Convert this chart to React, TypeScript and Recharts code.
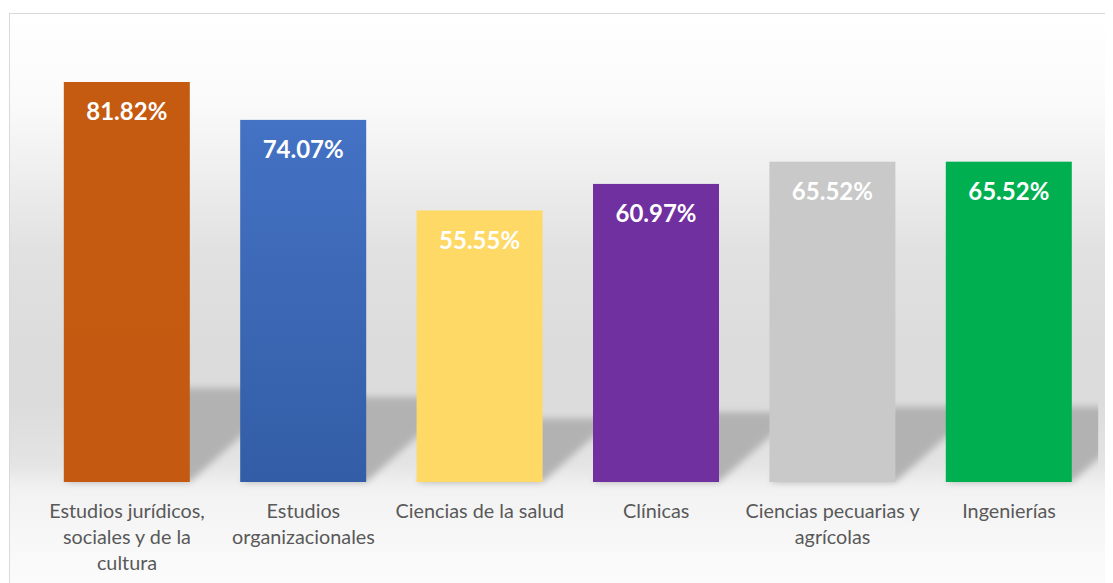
import { BarChart, Bar, XAxis, YAxis, LabelList } from "recharts";

const categories = [
    "Estudios jurídicos, sociales y de la cultura",
    "Estudios organizacionales",
    "Ciencias de la salud",
    "Clínicas",
    "Ciencias pecuarias y agrícolas",
    "Ingenierías",
];

const tickLines = [
    ["Estudios jurídicos,", "sociales y de la", "cultura"],
    ["Estudios", "organizacionales"],
    ["Ciencias de la salud"],
    ["Clínicas"],
    ["Ciencias pecuarias y", "agrícolas"],
    ["Ingenierías"],
];

const values = [81.82, 74.07, 55.55, 60.97, 65.52, 65.52];

const barTop = ["#C55A11", "#4472C4", "#FFD966", "#7030A0", "#C9C9C9", "#00B050"];
const barBottom = ["#C45911", "#335DA6", "#FFD966", "#7030A0", "#C9C9C9", "#00B050"];

const data = categories.map((name, i) => ({ name, value: values[i] }));

const W = 1105;
const H = 575;
const margin = { top: 34, right: 15.8, left: 30.8, bottom: 41 };
const PLOT_RIGHT = W - margin.right;
const PLOT_BOTTOM = H - margin.bottom - 60;

const FONT = "Lato, 'Open Sans', sans-serif";

const BarShape = (props: any) => {
    const { x, y, width, height, index } = props;
    const bottom = y + height;
    const hs = height * 0.235;
    const s = hs * 1.12;
    const pts = `${x},${bottom} ${x + width},${bottom} ${x + width + s},${bottom - hs} ${x + s},${bottom - hs}`;
    return (
        <g>
            <defs>
                <linearGradient id={`bar-grad-${index}`} x1="0" y1="0" x2="0" y2="1">
                    <stop offset="0%" stopColor={barTop[index]} />
                    <stop offset="100%" stopColor={barBottom[index]} />
                </linearGradient>
                <filter id={`bar-blur-${index}`} x="-30%" y="-30%" width="160%" height="160%">
                    <feGaussianBlur stdDeviation="3.5" />
                </filter>
                <clipPath id={`bar-clip-${index}`}>
                    <rect x={0} y={0} width={PLOT_RIGHT + 1} height={H} />
                </clipPath>
            </defs>
            <g clipPath={`url(#bar-clip-${index})`}>
                <polygon points={pts} fill="#b2b2b2" filter={`url(#bar-blur-${index})`} />
            </g>
            <rect x={x} y={y} width={width} height={height} fill={`url(#bar-grad-${index})`} />
        </g>
    );
};

const ValueLabel = (props: any) => {
    const { x, y, width, value } = props;
    return (
        <text
            x={x + width / 2}
            y={y + 29}
            textAnchor="middle"
            dominantBaseline="central"
            fill="#ffffff"
            fontFamily={FONT}
            fontWeight={700}
            fontSize={24}
        >
            {value.toFixed(2)}%
        </text>
    );
};

const CategoryTick = (props: any) => {
    const { x, payload } = props;
    const i = categories.indexOf(payload.value);
    const lines = tickLines[i] || [payload.value];
    return (
        <text
            x={x}
            y={PLOT_BOTTOM + 28}
            textAnchor="middle"
            fill="#595959"
            fontFamily={FONT}
            fontSize={19.8}
        >
            {lines.map((line, k) => (
                <tspan key={k} x={x} y={PLOT_BOTTOM + 28 + k * 26} dominantBaseline="central">
                    {line}
                </tspan>
            ))}
        </text>
    );
};

export default function App() {
    return (
        <div style={{ position: "relative", width: W, height: H, overflow: "hidden" }}>
            <div
                style={{
                    position: "absolute",
                    left: 1,
                    top: 5,
                    width: 1200,
                    height: 600,
                    border: "1px solid #d9d9d9",
                    background:
                        "linear-gradient(to bottom, #ffffff 0px, #fafafa 90px, #efefef 157px, #e1e1e1 237px, #dcdcdc 330px, #dcdcdc 390px, #e4e4e4 450px, #f2f2f2 475px, #fafafa 550px, #fcfcfc 600px)",
                }}
            />
            <div style={{ position: "absolute", left: 0, top: 0 }}>
                <BarChart width={W} height={H} data={data} margin={margin}>
                    <XAxis
                        dataKey="name"
                        axisLine={false}
                        tickLine={false}
                        interval={0}
                        height={60}
                        tick={<CategoryTick />}
                    />
                    <YAxis hide domain={[0, 90]} />
                    <Bar dataKey="value" barSize={126} shape={<BarShape />} isAnimationActive={false}>
                        <LabelList dataKey="value" content={<ValueLabel />} />
                    </Bar>
                </BarChart>
            </div>
        </div>
    );
}
